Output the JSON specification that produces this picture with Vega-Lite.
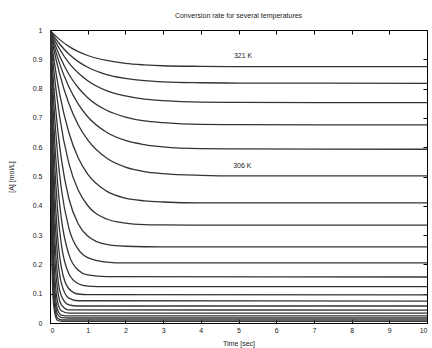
{
  "$schema": "https://vega.github.io/schema/vega-lite/v6.json",
  "autosize": {"type": "none"},
  "padding": {"left": 50, "top": 30, "right": 5, "bottom": 25},
  "width": 377,
  "height": 293,
  "background": "white",
  "title": {"text": "Conversion rate for several temperatures", "fontSize": 7, "fontWeight": "normal", "font": "Liberation Sans", "color": "#222", "offset": 7},
  "config": {
    "view": {"stroke": "#000", "strokeWidth": 1},
    "axis": {"domainColor": "#000", "tickColor": "#000", "labelColor": "#222", "titleColor": "#222", "labelFont": "Liberation Sans", "titleFont": "Liberation Sans", "labelFontSize": 7, "titleFontSize": 7, "titleFontWeight": "normal", "grid": false, "tickSize": -4}
  },
  "data": {"values": [
    {"c":1,"t":0,"v":1},{"c":1,"t":0.1,"v":0.986},{"c":1,"t":0.25,"v":0.968},{"c":1,"t":0.5,"v":0.944},{"c":1,"t":0.75,"v":0.926},{"c":1,"t":1,"v":0.913},{"c":1,"t":1.5,"v":0.896},{"c":1,"t":2,"v":0.886},{"c":1,"t":2.5,"v":0.881},{"c":1,"t":3,"v":0.878},{"c":1,"t":4,"v":0.876},{"c":1,"t":5,"v":0.875},{"c":1,"t":10,"v":0.875},
    {"c":2,"t":0,"v":1},{"c":2,"t":0.1,"v":0.979},{"c":2,"t":0.25,"v":0.953},{"c":2,"t":0.5,"v":0.918},{"c":2,"t":0.75,"v":0.892},{"c":2,"t":1,"v":0.873},{"c":2,"t":1.5,"v":0.848},{"c":2,"t":2,"v":0.835},{"c":2,"t":2.5,"v":0.827},{"c":2,"t":3,"v":0.823},{"c":2,"t":4,"v":0.82},{"c":2,"t":5,"v":0.819},{"c":2,"t":10,"v":0.818},
    {"c":3,"t":0,"v":1},{"c":3,"t":0.1,"v":0.972},{"c":3,"t":0.25,"v":0.936},{"c":3,"t":0.5,"v":0.888},{"c":3,"t":0.75,"v":0.853},{"c":3,"t":1,"v":0.827},{"c":3,"t":1.5,"v":0.793},{"c":3,"t":2,"v":0.775},{"c":3,"t":2.5,"v":0.764},{"c":3,"t":3,"v":0.759},{"c":3,"t":4,"v":0.754},{"c":3,"t":5,"v":0.753},{"c":3,"t":10,"v":0.752},
    {"c":4,"t":0,"v":1},{"c":4,"t":0.1,"v":0.962},{"c":4,"t":0.25,"v":0.913},{"c":4,"t":0.5,"v":0.849},{"c":4,"t":0.75,"v":0.803},{"c":4,"t":1,"v":0.769},{"c":4,"t":1.5,"v":0.726},{"c":4,"t":2,"v":0.703},{"c":4,"t":2.5,"v":0.69},{"c":4,"t":3,"v":0.684},{"c":4,"t":4,"v":0.678},{"c":4,"t":5,"v":0.677},{"c":4,"t":10,"v":0.676},
    {"c":5,"t":0,"v":1},{"c":5,"t":0.1,"v":0.95},{"c":5,"t":0.25,"v":0.887},{"c":5,"t":0.5,"v":0.806},{"c":5,"t":0.75,"v":0.747},{"c":5,"t":1,"v":0.704},{"c":5,"t":1.5,"v":0.651},{"c":5,"t":2,"v":0.623},{"c":5,"t":2.5,"v":0.609},{"c":5,"t":3,"v":0.601},{"c":5,"t":4,"v":0.595},{"c":5,"t":5,"v":0.594},{"c":5,"t":10,"v":0.593},
    {"c":6,"t":0,"v":1},{"c":6,"t":0.1,"v":0.935},{"c":6,"t":0.25,"v":0.853},{"c":6,"t":0.5,"v":0.749},{"c":6,"t":0.75,"v":0.676},{"c":6,"t":1,"v":0.625},{"c":6,"t":1.5,"v":0.563},{"c":6,"t":2,"v":0.532},{"c":6,"t":2.5,"v":0.517},{"c":6,"t":3,"v":0.51},{"c":6,"t":4,"v":0.504},{"c":6,"t":5,"v":0.502},{"c":6,"t":10,"v":0.502},
    {"c":7,"t":0,"v":1},{"c":7,"t":0.1,"v":0.903},{"c":7,"t":0.25,"v":0.786},{"c":7,"t":0.5,"v":0.65},{"c":7,"t":0.75,"v":0.563},{"c":7,"t":1,"v":0.508},{"c":7,"t":1.5,"v":0.45},{"c":7,"t":2,"v":0.426},{"c":7,"t":2.5,"v":0.417},{"c":7,"t":3,"v":0.413},{"c":7,"t":4,"v":0.41},{"c":7,"t":10,"v":0.41},
    {"c":8,"t":0,"v":1},{"c":8,"t":0.1,"v":0.863},{"c":8,"t":0.25,"v":0.709},{"c":8,"t":0.5,"v":0.545},{"c":8,"t":0.75,"v":0.453},{"c":8,"t":1,"v":0.401},{"c":8,"t":1.5,"v":0.355},{"c":8,"t":2,"v":0.341},{"c":8,"t":2.5,"v":0.336},{"c":8,"t":3,"v":0.335},{"c":8,"t":4,"v":0.334},{"c":8,"t":10,"v":0.334},
    {"c":9,"t":0,"v":1},{"c":9,"t":0.05,"v":0.897},{"c":9,"t":0.1,"v":0.808},{"c":9,"t":0.2,"v":0.666},{"c":9,"t":0.3,"v":0.561},{"c":9,"t":0.5,"v":0.425},{"c":9,"t":0.75,"v":0.338},{"c":9,"t":1,"v":0.297},{"c":9,"t":1.5,"v":0.268},{"c":9,"t":2,"v":0.262},{"c":9,"t":3,"v":0.26},{"c":9,"t":10,"v":0.26},
    {"c":10,"t":0,"v":1},{"c":10,"t":0.05,"v":0.863},{"c":10,"t":0.1,"v":0.749},{"c":10,"t":0.2,"v":0.577},{"c":10,"t":0.3,"v":0.459},{"c":10,"t":0.5,"v":0.324},{"c":10,"t":0.75,"v":0.251},{"c":10,"t":1,"v":0.223},{"c":10,"t":1.5,"v":0.208},{"c":10,"t":2,"v":0.205},{"c":10,"t":10,"v":0.205},
    {"c":11,"t":0,"v":1},{"c":11,"t":0.05,"v":0.82},{"c":11,"t":0.1,"v":0.678},{"c":11,"t":0.2,"v":0.48},{"c":11,"t":0.3,"v":0.357},{"c":11,"t":0.5,"v":0.234},{"c":11,"t":0.75,"v":0.18},{"c":11,"t":1,"v":0.164},{"c":11,"t":1.5,"v":0.158},{"c":11,"t":10,"v":0.157},
    {"c":12,"t":0,"v":1},{"c":12,"t":0.05,"v":0.773},{"c":12,"t":0.1,"v":0.605},{"c":12,"t":0.2,"v":0.388},{"c":12,"t":0.3,"v":0.269},{"c":12,"t":0.5,"v":0.168},{"c":12,"t":0.75,"v":0.134},{"c":12,"t":1,"v":0.126},{"c":12,"t":1.5,"v":0.124},{"c":12,"t":10,"v":0.124},
    {"c":13,"t":0,"v":1},{"c":13,"t":0.05,"v":0.717},{"c":13,"t":0.1,"v":0.523},{"c":13,"t":0.2,"v":0.298},{"c":13,"t":0.3,"v":0.191},{"c":13,"t":0.5,"v":0.117},{"c":13,"t":0.75,"v":0.099},{"c":13,"t":1,"v":0.097},{"c":13,"t":10,"v":0.096},
    {"c":14,"t":0,"v":1},{"c":14,"t":0.05,"v":0.665},{"c":14,"t":0.1,"v":0.451},{"c":14,"t":0.2,"v":0.228},{"c":14,"t":0.3,"v":0.137},{"c":14,"t":0.5,"v":0.085},{"c":14,"t":0.75,"v":0.076},{"c":14,"t":10,"v":0.075},
    {"c":15,"t":0,"v":1},{"c":15,"t":0.05,"v":0.601},{"c":15,"t":0.1,"v":0.372},{"c":15,"t":0.2,"v":0.162},{"c":15,"t":0.3,"v":0.093},{"c":15,"t":0.5,"v":0.062},{"c":15,"t":0.75,"v":0.058},{"c":15,"t":10,"v":0.058},
    {"c":16,"t":0,"v":1},{"c":16,"t":0.05,"v":0.543},{"c":16,"t":0.1,"v":0.305},{"c":16,"t":0.2,"v":0.115},{"c":16,"t":0.3,"v":0.063},{"c":16,"t":0.5,"v":0.045},{"c":16,"t":10,"v":0.044},
    {"c":17,"t":0,"v":1},{"c":17,"t":0.05,"v":0.468},{"c":17,"t":0.1,"v":0.229},{"c":17,"t":0.2,"v":0.073},{"c":17,"t":0.3,"v":0.042},{"c":17,"t":0.5,"v":0.034},{"c":17,"t":10,"v":0.034},
    {"c":18,"t":0,"v":1},{"c":18,"t":0.05,"v":0.401},{"c":18,"t":0.1,"v":0.17},{"c":18,"t":0.2,"v":0.046},{"c":18,"t":0.3,"v":0.027},{"c":18,"t":0.5,"v":0.024},{"c":18,"t":10,"v":0.024},
    {"c":19,"t":0,"v":1},{"c":19,"t":0.05,"v":0.344},{"c":19,"t":0.1,"v":0.126},{"c":19,"t":0.2,"v":0.029},{"c":19,"t":0.3,"v":0.018},{"c":19,"t":0.5,"v":0.017},{"c":19,"t":10,"v":0.017},
    {"c":20,"t":0,"v":1},{"c":20,"t":0.05,"v":0.281},{"c":20,"t":0.1,"v":0.085},{"c":20,"t":0.2,"v":0.016},{"c":20,"t":0.3,"v":0.011},{"c":20,"t":10,"v":0.011},
    {"c":21,"t":0,"v":1},{"c":21,"t":0.05,"v":0.228},{"c":21,"t":0.1,"v":0.056},{"c":21,"t":0.2,"v":0.0085},{"c":21,"t":0.3,"v":0.006},{"c":21,"t":10,"v":0.006}
  ]},
  "layer": [
    {
      "mark": {"type": "line", "interpolate": "monotone", "color": "#333333", "strokeWidth": 1.3, "clip": true},
      "encoding": {
        "x": {"field": "t", "type": "quantitative", "scale": {"domain": [0, 10], "nice": false}, "axis": {"orient": "bottom", "values": [0,1,2,3,4,5,6,7,8,9,10], "title": "Time [sec]", "labelPadding": 7, "titlePadding": 6}},
        "y": {"field": "v", "type": "quantitative", "scale": {"domain": [0, 1], "nice": false}, "axis": {"orient": "left", "values": [0,0.1,0.2,0.3,0.4,0.5,0.6,0.7,0.8,0.9,1], "format": "~g", "title": "[A] [mol/L]", "labelPadding": 12, "titlePadding": 18}},
        "detail": {"field": "c", "type": "nominal"}
      }
    },
    {
      "data": {"values": [
        {"t": 5.12, "v": 0.911, "label": "321 K"},
        {"t": 5.1, "v": 0.536, "label": "306 K"}
      ]},
      "mark": {"type": "text", "font": "Liberation Sans", "fontSize": 7, "color": "#222"},
      "encoding": {
        "x": {"field": "t", "type": "quantitative", "axis": {"orient": "top", "values": [0,1,2,3,4,5,6,7,8,9,10], "labels": false, "title": null, "domain": false}},
        "y": {"field": "v", "type": "quantitative", "axis": {"orient": "right", "values": [0,0.1,0.2,0.3,0.4,0.5,0.6,0.7,0.8,0.9,1], "labels": false, "title": null, "domain": false}},
        "text": {"field": "label"}
      }
    }
  ],
  "resolve": {"axis": {"x": "independent", "y": "independent"}}
}
